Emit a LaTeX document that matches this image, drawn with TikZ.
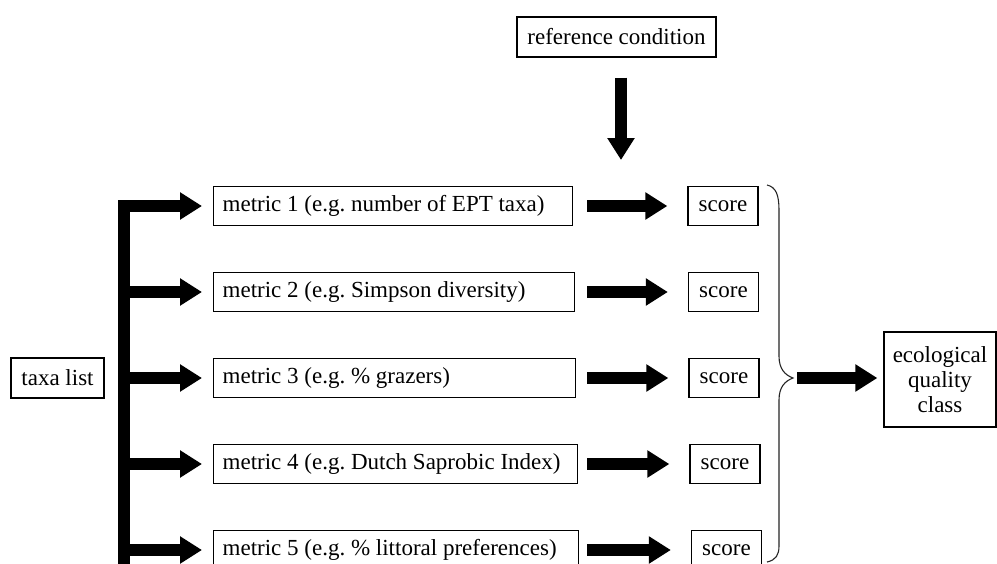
\documentclass[tikz,border=0pt]{standalone}
\usepackage{fontspec}
\setmainfont{Liberation Serif}
\usetikzlibrary{arrows.meta}
\frenchspacing
\begin{document}
\begin{tikzpicture}[x=1pt,y=-1pt,
  box/.style={draw=black, line width=1.3pt, inner sep=0pt, font=\fontsize{23}{25}\selectfont},
  metricbox/.style={box, anchor=west, minimum height=39pt, inner xsep=9pt},
  scorebox/.style={box, minimum width=70pt, minimum height=39pt},
  fat/.style={line width=12pt, -{Triangle[length=22pt,width=26pt]}},
  bracestyle/.style={line width=1.1pt, draw=black!85}
  ]
\useasboundingbox (0,0) rectangle (997,563);
\clip (0,0) rectangle (997,563);
\fill[white] (0,0) rectangle (997,563);

% nodes
\node[box, minimum width=199pt, minimum height=40pt] (ref) at (616.5,37) {reference condition};
\node[box, minimum width=93pt, minimum height=40pt] (taxa) at (57.5,378) {taxa list};

\node[metricbox] (m1) at (213,206) {\makebox[341pt][l]{metric 1 (e.g. number of EPT taxa)}};
\node[metricbox] (m2) at (213,292) {\makebox[343pt][l]{metric 2 (e.g. Simpson diversity)}};
\node[metricbox] (m3) at (213,378) {\makebox[344pt][l]{metric 3 (e.g. \% grazers)}};
\node[metricbox] (m4) at (213,464) {\makebox[346pt][l]{metric 4 (e.g. Dutch Saprobic Index)}};
\node[metricbox] (m5) at (213,550) {\makebox[347pt][l]{metric 5 (e.g. \% littoral preferences)}};

\node[scorebox] (s1) at (723,206) {score};
\node[scorebox] (s2) at (723.5,292) {score};
\node[scorebox] (s3) at (724,378) {score};
\node[scorebox] (s4) at (725,464) {score};
\node[scorebox] (s5) at (726.5,550) {score};

\node[box, minimum width=112pt, minimum height=95pt, align=center] (eco) at (940,379.5) {ecological\\quality\\class};

% reference arrow
\coordinate (rtip) at (621,160);
\draw[fat, shorten <=20pt] (ref.south -| rtip) -- (rtip);

% left bracket
\coordinate (barL) at (118,0);
\coordinate (bartop) at (124,200);
\coordinate (barbot) at (124,580);
\draw[line width=12pt] (bartop) -- (barbot);
\foreach \m in {m1,m2,m3,m4,m5}{
  \draw[fat, shorten >=11pt] (barL |- \m.west) -- (\m.west);
}

% metric -> score arrows
\foreach \i in {1,...,5}{
  \draw[fat, shorten >=20pt] (m\i.east -| 587,0) -- (s\i.west);
}

% brace
\coordinate (btip) at (793,378);
\draw[bracestyle] (767,185) .. controls (776,187) and (779,195) .. (779,210)
  -- (779,356) .. controls (779,369) and (785,375) .. (btip)
  .. controls (785,381) and (779,387) .. (779,400)
  -- (779,546) .. controls (779,555) and (776,560) .. (767,562);

% brace -> eco arrow
\draw[fat, shorten <=4pt, shorten >=6pt] (btip) -- (btip -| eco.west);
\end{tikzpicture}
\end{document}
